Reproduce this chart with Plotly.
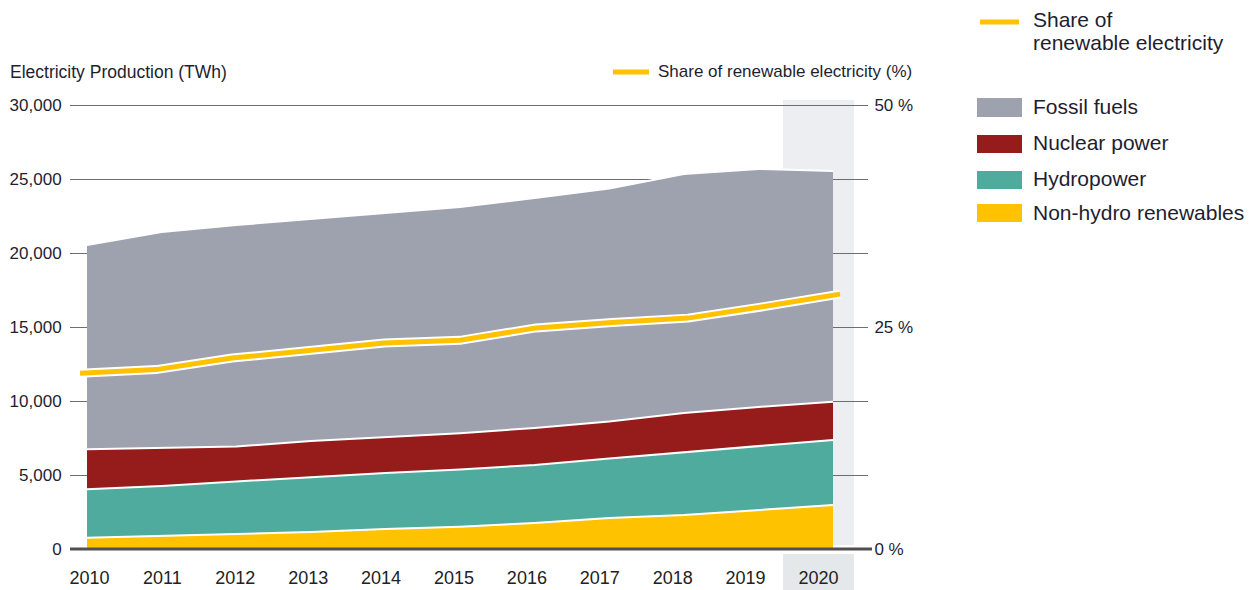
import plotly.graph_objects as go

# ---- data ----
years = [2010, 2011, 2012, 2013, 2014, 2015, 2016, 2017, 2018, 2019, 2020]
year_labels = [str(y) for y in years]
fossil = [13800, 14590, 14960, 15000, 15130, 15290, 15540, 15740, 16150, 16080, 15590]
nuclear = [2710, 2570, 2370, 2430, 2430, 2450, 2500, 2500, 2640, 2640, 2580]
hydro = [3270, 3380, 3550, 3720, 3790, 3860, 3920, 4020, 4250, 4320, 4400]
nonhydro = [760, 880, 1010, 1150, 1350, 1510, 1760, 2100, 2300, 2640, 2970]
share = [19.8, 20.2, 21.5, 22.4, 23.2, 23.5, 24.9, 25.5, 26.0, 27.3, 28.7]

left_ticks = [0, 5000, 10000, 15000, 20000, 25000, 30000]
right_ticks = [0, 25, 50]
right_tick_text = ["0 %", "25 %", "50 %"]

series = [
    ("Non-hydro renewables", nonhydro, "#ffc200"),
    ("Hydropower", hydro, "#4fab9e"),
    ("Nuclear power", nuclear, "#951c1b"),
    ("Fossil fuels", fossil, "#9ea2af"),
]

FONT = "Liberation Sans, Arial, sans-serif"
TXT = "#1e1e30"
YELLOW = "#ffc200"

fig = go.Figure()

for name, vals, col in series:
    fig.add_trace(go.Scatter(
        x=years, y=vals, name=name, stackgroup="one", mode="lines",
        line=dict(color="white", width=2), fillcolor=col,
        hoverinfo="skip", showlegend=False, xaxis="x", yaxis="y"))

# invisible trace carrying the labelled year axis
fig.add_trace(go.Scatter(x=years, y=[None] * len(years), xaxis="x2", yaxis="y",
                         showlegend=False, hoverinfo="skip", mode="lines"))

# share line (white halo + yellow)
fig.add_trace(go.Scatter(x=years, y=share, mode="lines", xaxis="x3", yaxis="y2",
                         line=dict(color="white", width=9), showlegend=False,
                         hoverinfo="skip"))
fig.add_trace(go.Scatter(x=years, y=share, mode="lines", xaxis="x3", yaxis="y2",
                         line=dict(color=YELLOW, width=5), showlegend=False,
                         hoverinfo="skip", name="Share of renewable electricity"))

# pixel geometry helpers (plot area x: 70..868, y: 95..555)
L, R, T, B = 70, 868, 95, 555
W, H = R - L, B - T
def px(x):
    return (x - L) / W
def py(y):
    return (B - y) / H

shapes = []
# 2020 highlight band
shapes.append(dict(type="rect", xref="x2", yref="paper", x0=2019.513, x1=2020.487,
                   y0=py(545), y1=py(100), fillcolor="#eceef1", line_width=0, layer="below"))
shapes.append(dict(type="rect", xref="x2", yref="paper", x0=2019.513, x1=2020.487,
                   y0=py(554), y1=py(590), fillcolor="#e5e8eb", line_width=0, layer="below"))
# zero baseline
shapes.append(dict(type="line", xref="paper", yref="y", x0=0, x1=px(872), y0=0, y1=0,
                   line=dict(color="#505050", width=3)))
# top inline legend line
shapes.append(dict(type="line", xref="paper", yref="paper", x0=px(613), x1=px(649),
                   y0=py(72), y1=py(72), line=dict(color=YELLOW, width=5)))
# right legend
shapes.append(dict(type="line", xref="paper", yref="paper", x0=px(980), x1=px(1019),
                   y0=py(22), y1=py(22), line=dict(color=YELLOW, width=5)))
legend_rows = [("Fossil fuels", "#9ea2af", 98, 117, 107),
               ("Nuclear power", "#951c1b", 135, 153, 143),
               ("Hydropower", "#4fab9e", 171, 189, 178),
               ("Non-hydro renewables", "#ffc200", 204, 222, 212)]
annotations = []
for name, col, ya, yb, yt in legend_rows:
    shapes.append(dict(type="rect", xref="paper", yref="paper", x0=px(977), x1=px(1022),
                       y0=py(yb), y1=py(ya), fillcolor=col, line_width=0))
    annotations.append(dict(text=name, xref="paper", yref="paper", x=px(1031), y=py(yt),
                            xanchor="left", yanchor="middle", showarrow=False,
                            font=dict(family=FONT, size=21, color=TXT)))
annotations.append(dict(text="Share of", xref="paper", yref="paper", x=px(1031), y=py(20),
                        xanchor="left", yanchor="middle", showarrow=False,
                        font=dict(family=FONT, size=21, color=TXT)))
annotations.append(dict(text="renewable electricity", xref="paper", yref="paper", x=px(1031),
                        y=py(43), xanchor="left", yanchor="middle", showarrow=False,
                        font=dict(family=FONT, size=21, color=TXT)))
annotations.append(dict(text="Electricity Production (TWh)", xref="paper", yref="paper",
                        x=px(8), y=py(72), xanchor="left", yanchor="middle", showarrow=False,
                        font=dict(family=FONT, size=17.5, color=TXT)))
annotations.append(dict(text="Share of renewable electricity (%)", xref="paper", yref="paper",
                        x=px(656), y=py(72), xanchor="left", yanchor="middle", showarrow=False,
                        font=dict(family=FONT, size=17, color=TXT)))

px_per_unit = 444 / 30000.0
fig.update_layout(
    width=1253, height=590,
    margin=dict(l=L, r=1253 - R, t=T, b=590 - B, pad=0, autoexpand=False),
    paper_bgcolor="white", plot_bgcolor="rgba(0,0,0,0)",
    showlegend=False,
    shapes=shapes, annotations=annotations,
    font=dict(family=FONT, size=17, color=TXT),
    xaxis=dict(range=[2009.772, 2020.469], showticklabels=False, showgrid=False,
               zeroline=False, showline=False, ticks="", automargin=False),
    xaxis2=dict(overlaying="x", anchor="y", side="bottom", automargin=False,
                range=[2009.733, 2020.679], tickmode="array", tickvals=years,
                ticktext=year_labels, showgrid=False, zeroline=False, showline=False,
                ticks="outside", ticklen=6, tickcolor="rgba(0,0,0,0)",
                tickfont=dict(family=FONT, size=18, color="#222222")),
    xaxis3=dict(overlaying="x", anchor="y2", range=[2009.868, 2020.368], automargin=False,
                showticklabels=False, showgrid=False, zeroline=False, showline=False),
    yaxis=dict(range=[-6 / px_per_unit, 30000 + 10 / px_per_unit], tickmode="array",
               tickvals=left_ticks, tickformat=",d", showgrid=True, gridcolor="#6e6e6e",
               gridwidth=1.3, zeroline=False, showline=False, ticks="outside", ticklen=4,
               tickcolor="rgba(0,0,0,0)", automargin=False,
               tickfont=dict(family=FONT, size=17, color=TXT)),
    yaxis2=dict(overlaying="y", side="right", anchor="x3", automargin=False,
                range=[-6 / 8.88, 50 + 10 / 8.88], tickmode="array", tickvals=right_ticks,
                ticktext=right_tick_text, showgrid=False, zeroline=False, showline=False,
                ticks="outside", ticklen=2, tickcolor="rgba(0,0,0,0)",
                tickfont=dict(family=FONT, size=17, color=TXT)),
)

fig.write_html("out.html")
